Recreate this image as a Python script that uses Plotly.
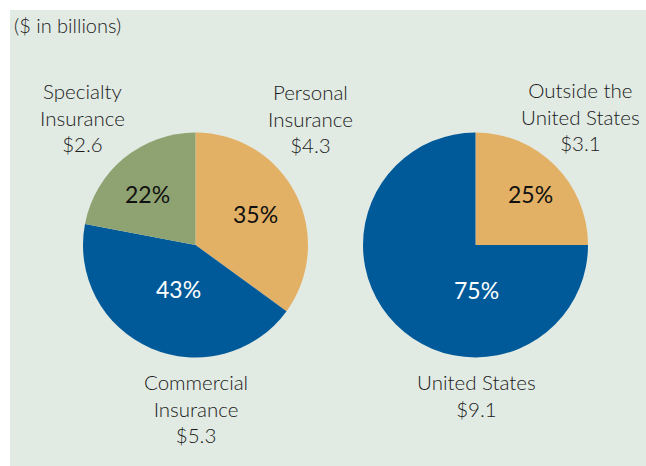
import plotly.graph_objects as go

W, H = 646, 466

# ---- data ----
segment_names = ["Personal<br>Insurance", "Commercial<br>Insurance", "Specialty<br>Insurance"]
segment_dollars = [4.3, 5.3, 2.6]          # $ in billions
segment_shares = [35, 43, 22]               # percent of total

geo_names = ["Outside the<br>United States", "United States"]
geo_dollars = [3.1, 9.1]
geo_shares = [25, 75]

subtitle = "($ in billions)"

# ---- style ----
ORANGE = "#E3B165"
BLUE = "#005A9A"
GREEN = "#8FA372"
BG = "#E1EAE3"
FONT = "Lato"

def px_x(x):
    return x / W

def px_y(y):
    return 1 - y / H

fig = go.Figure()

fig.add_trace(go.Pie(
    labels=[n.replace("<br>", " ") for n in segment_names], values=segment_shares,
    customdata=segment_dollars,
    textinfo="none", sort=False, direction="clockwise", rotation=0,
    marker=dict(colors=[ORANGE, BLUE, GREEN], line=dict(width=0)),
    domain=dict(x=[px_x(83), px_x(308)], y=[px_y(357.5), px_y(132.5)]),
    hovertemplate="%{label}: $%{customdata}B (%{value}%)<extra></extra>", showlegend=False,
))

fig.add_trace(go.Pie(
    labels=[n.replace("<br>", " ") for n in geo_names], values=geo_shares,
    customdata=geo_dollars,
    textinfo="none", sort=False, direction="clockwise", rotation=0,
    marker=dict(colors=[ORANGE, BLUE], line=dict(width=0)),
    domain=dict(x=[px_x(363), px_x(588)], y=[px_y(357.5), px_y(132.5)]),
    hovertemplate="%{label}: $%{customdata}B (%{value}%)<extra></extra>", showlegend=False,
))

annotations = []

# callouts outside the pies
callout_pos = [
    (segment_names[0], segment_dollars[0], 310, 118),
    (segment_names[1], segment_dollars[1], 196, 408),
    (segment_names[2], segment_dollars[2], 82, 117),
    (geo_names[0], geo_dollars[0], 580, 116),
    (geo_names[1], geo_dollars[1], 476, 395),
]
for name, val, x, y in callout_pos:
    annotations.append(dict(
        text=f"{name}<br>${val}", x=px_x(x), y=px_y(y), xref="paper", yref="paper",
        xanchor="center", yanchor="middle", showarrow=False, align="center",
        font=dict(family=FONT, size=20.5, color="#1a1a1a", weight=300),
    ))

# percentages inside the slices
pct_pos = [
    (segment_shares[0], 255, 213.5, "#111111"),
    (segment_shares[1], 178.5, 288.5, "white"),
    (segment_shares[2], 147.5, 193.5, "#111111"),
    (geo_shares[0], 530, 193.5, "#111111"),
    (geo_shares[1], 476, 290, "white"),
]
for val, x, y, col in pct_pos:
    annotations.append(dict(
        text=f"{val}%", x=px_x(x), y=px_y(y), xref="paper", yref="paper",
        xanchor="center", yanchor="middle", showarrow=False,
        font=dict(family=FONT, size=23, color=col),
    ))

annotations.append(dict(
    text=subtitle, x=px_x(12), y=px_y(25), xref="paper", yref="paper",
    xanchor="left", yanchor="middle", showarrow=False,
    font=dict(family=FONT, size=20, color="#1a1a1a", weight=300),
))

fig.update_layout(
    width=W, height=H,
    margin=dict(l=0, r=0, t=0, b=0),
    paper_bgcolor="white",
    shapes=[dict(type="rect", xref="paper", yref="paper", x0=px_x(10), x1=1, y0=0, y1=px_y(10),
                 fillcolor=BG, line=dict(width=0), layer="below")],
    annotations=annotations,
)

fig.write_html(
    "out.html",
    config={"displayModeBar": False},
    post_script="document.body.style.margin='0';document.body.style.overflow='hidden';",
)
